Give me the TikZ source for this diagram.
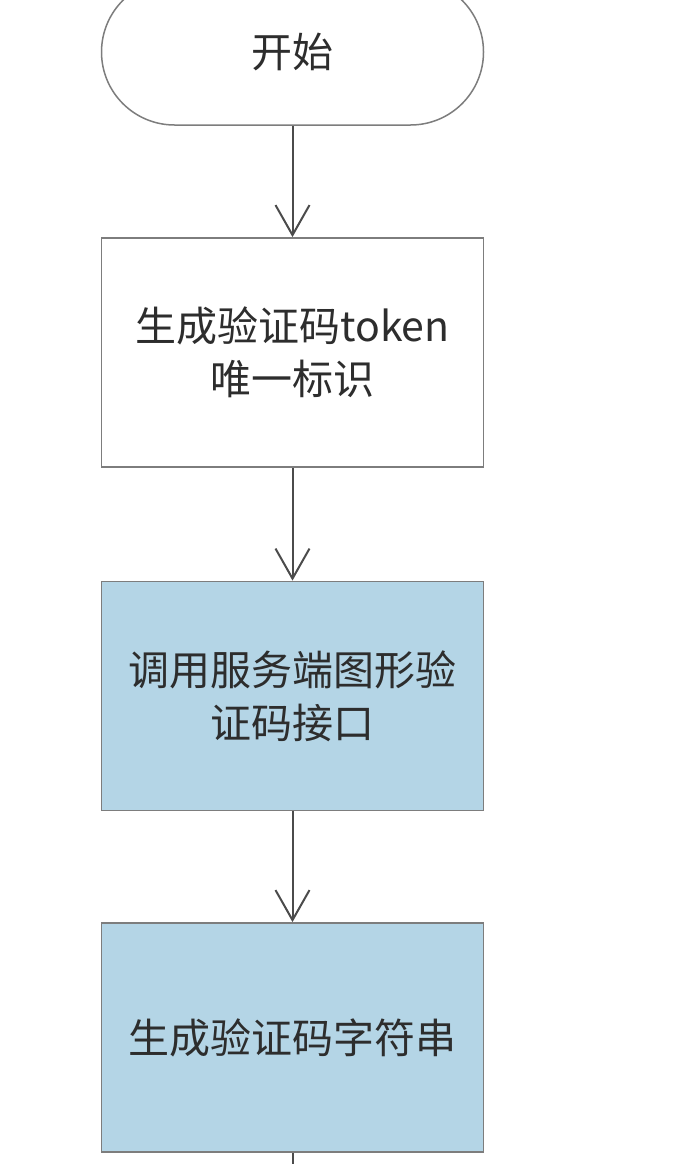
\documentclass[tikz,border=0pt]{standalone}
\usepackage{fontspec}
\setmainfont{Noto Sans CJK SC}
\usetikzlibrary{arrows.meta,shapes.misc}
\definecolor{boxline}{RGB}{125,125,125}
\definecolor{arrowc}{RGB}{75,75,75}
\definecolor{boxblue}{RGB}{180,213,230}
\definecolor{txt}{RGB}{45,45,45}
\begin{document}
\begin{tikzpicture}[x=1pt,y=-1pt,
  boxtxt/.style={align=center, text=txt, font=\fontsize{41pt}{53pt}\selectfont},
  plainbox/.style={boxtxt, draw=boxline, line width=1.8pt, minimum width=382pt, minimum height=229pt, inner sep=0pt},
  bluebox/.style={plainbox, fill=boxblue},
  startbox/.style={boxtxt, rounded rectangle, draw=boxline, line width=1.5pt, minimum width=382pt, minimum height=146pt, inner sep=0pt},
  conn/.style={draw=arrowc, line width=2pt, -{Straight Barb[length=30pt,width=34pt]}},
  plainline/.style={draw=arrowc, line width=2pt}
]
\useasboundingbox (0,0) rectangle (682,1164);
\fill[white] (0,0) rectangle (682,1164);
\clip (0,0) rectangle (682,1164);
\node[startbox] (start) at (292.5,52) {开始};
\node[plainbox] (token) at (292.5,352.5) {生成验证码token\\唯一标识};
\node[bluebox] (call) at (292.5,696) {调用服务端图形验\\证码接口};
\node[bluebox] (gen) at (292.5,1037.5) {生成验证码字符串};
\coordinate (endpt) at (292.5,1170);
\draw[conn] (start.south) -- (token.north);
\draw[conn] (token.south) -- (call.north);
\draw[conn] (call.south) -- (gen.north);
\draw[plainline] (gen.south) -- (endpt);
\end{tikzpicture}
\end{document}
